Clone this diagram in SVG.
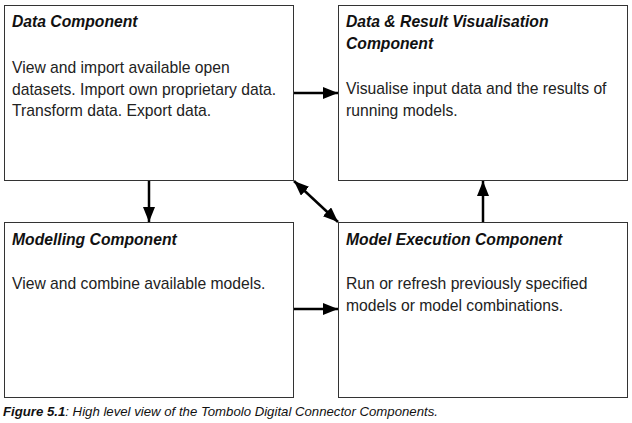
<svg xmlns="http://www.w3.org/2000/svg" width="632" height="423" viewBox="0 0 632 423">
<style>
.box{fill:#fff;stroke:#333;stroke-width:1}
.t{font-family:"Liberation Sans",Arial,sans-serif;font-size:15.7px;font-weight:bold;font-style:italic;fill:#111}
.b{font-family:"Liberation Sans",Arial,sans-serif;font-size:15.7px;fill:#222}
.c{font-family:"Liberation Sans",Arial,sans-serif;font-size:13.2px;font-style:italic;fill:#111}
.a{stroke:#000;stroke-width:2.5;fill:none}
</style>
<defs>
<marker id="ah" viewBox="0 0 15 12" refX="15" refY="6" markerWidth="15" markerHeight="12" markerUnits="userSpaceOnUse" orient="auto-start-reverse">
<path d="M0,0 L15,6 L0,12 z" fill="#000"/>
</marker>
</defs>
<rect width="632" height="423" fill="#fff"/>
<g id="data">
<rect class="box" x="4.5" y="5.5" width="289" height="175"/>
<text class="t" x="12" y="27">Data Component</text>
<text class="b" x="12" y="73">View and import available open</text>
<text class="b" x="12" y="94.5">datasets. Import own proprietary data.</text>
<text class="b" x="12" y="116">Transform data. Export data.</text>
</g>
<g id="vis">
<rect class="box" x="338.5" y="5.5" width="289" height="175"/>
<text class="t" x="346" y="27">Data &amp; Result Visualisation</text>
<text class="t" x="346" y="49">Component</text>
<text class="b" x="346" y="94">Visualise input data and the results of</text>
<text class="b" x="346" y="116">running models.</text>
</g>
<g id="modelling">
<rect class="box" x="4.5" y="222.5" width="289" height="175"/>
<text class="t" x="12" y="245">Modelling Component</text>
<text class="b" x="12" y="289">View and combine available models.</text>
</g>
<g id="execution">
<rect class="box" x="338.5" y="222.5" width="289" height="175"/>
<text class="t" x="346" y="245">Model Execution Component</text>
<text class="b" x="346" y="289">Run or refresh previously specified</text>
<text class="b" x="346" y="311">models or model combinations.</text>
</g>
<g id="connectors">
<line class="a" x1="294" y1="93" x2="338" y2="93" marker-end="url(#ah)"/>
<line class="a" x1="149" y1="181" x2="149" y2="222" marker-end="url(#ah)"/>
<line class="a" x1="483" y1="222" x2="483" y2="181" marker-end="url(#ah)"/>
<line class="a" x1="294" y1="309" x2="338" y2="309" marker-end="url(#ah)"/>
<line class="a" x1="294" y1="181" x2="338" y2="222" marker-start="url(#ah)" marker-end="url(#ah)"/>
</g>
<text class="c" x="3" y="416"><tspan font-weight="bold">Figure 5.1</tspan>: High level view of the Tombolo Digital Connector Components.</text>
</svg>
